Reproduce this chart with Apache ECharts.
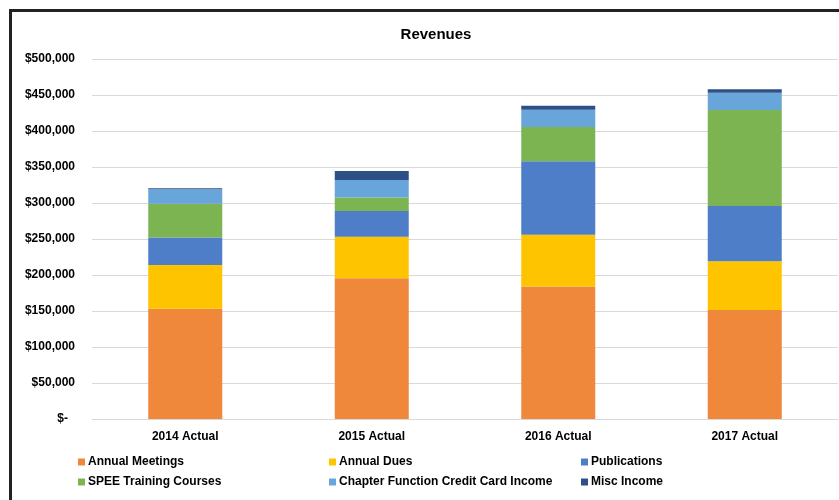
<!DOCTYPE html>
<html>
<head>
<meta charset="utf-8">
<script src="https://cdn.jsdelivr.net/npm/echarts@6/dist/echarts.min.js"></script>
<style>
  html, body { margin: 0; padding: 0; background: #fff; }
  #main { width: 839px; height: 500px; }
</style>
</head>
<body>
<div id="main"></div>
<script>
let categories = ['2014 Actual', '2015 Actual', '2016 Actual', '2017 Actual'];

let annualMeetings = [153000, 195500, 184000, 151500];
let annualDues = [61000, 57500, 72000, 67500];
let publications = [38000, 36000, 102000, 77000];
let speeTraining = [47000, 18500, 47500, 133000];
let chapterFunction = [20000, 24500, 24000, 24000];
let miscIncome = [1500, 12500, 5500, 5000];

let font = 'Liberation Sans';

function bar(name, data, color) {
    return {
        name: name,
        type: 'bar',
        stack: 'rev',
        barWidth: 74,
        data: data,
        itemStyle: {color: color},
        emphasis: {disabled: true}
    };
}

function legend(left, names) {
    return {
        orient: 'vertical',
        left: left,
        top: 456,
        height: 44,
        padding: 0,
        itemWidth: 7,
        itemHeight: 7,
        itemGap: 8,
        icon: 'rect',
        data: names,
        textStyle: {fontFamily: font, fontSize: 12, fontWeight: 'bold', color: '#000', padding: [0, 0, 0, -2]}
    };
}

let option = {
    animation: false,
    title: {
        text: 'Revenues',
        left: 431,
        textAlign: 'center',
        top: 22,
        textStyle: {fontFamily: font, fontSize: 15, fontWeight: 'bold', color: '#000'}
    },
    grid: {left: 92, right: 1, top: 59, bottom: 81},
    legend: [
        legend(78, ['Annual Meetings', 'SPEE Training Courses']),
        legend(329, ['Annual Dues', 'Chapter Function Credit Card Income']),
        legend(581, ['Publications', 'Misc Income'])
    ],
    xAxis: {
        type: 'category',
        data: categories,
        axisLine: {lineStyle: {color: '#d9d9d9', width: 1}},
        axisTick: {show: false},
        axisLabel: {fontFamily: font, fontSize: 12, fontWeight: 'bold', color: '#000', margin: 12}
    },
    yAxis: {
        type: 'value',
        min: 0,
        max: 500000,
        interval: 50000,
        axisLine: {show: false},
        axisTick: {show: false},
        splitLine: {lineStyle: {color: '#d9d9d9', width: 1}},
        axisLabel: {
            fontFamily: font, fontSize: 12, fontWeight: 'bold', color: '#000', margin: 17,
            formatter: function (v) {
                if (v === 0) return '{z|$-}';
                return '$' + v.toLocaleString('en-US');
            },
            rich: {
                z: {fontFamily: font, fontSize: 12, fontWeight: 'bold', color: '#000', padding: [0, 7, 0, 0]}
            }
        }
    },
    graphic: [{
        type: 'rect',
        shape: {x: 10.5, y: 10.5, width: 900, height: 600},
        style: {fill: 'none', stroke: '#222', lineWidth: 3},
        silent: true
    }],
    series: [
        bar('Annual Meetings', annualMeetings, '#EF883B'),
        bar('Annual Dues', annualDues, '#FFC400'),
        bar('Publications', publications, '#4E7EC8'),
        bar('SPEE Training Courses', speeTraining, '#7DB452'),
        bar('Chapter Function Credit Card Income', chapterFunction, '#67A5DA'),
        bar('Misc Income', miscIncome, '#2F5087')
    ]
};

let chart = echarts.init(document.getElementById('main'));
chart.setOption(option);
</script>
</body>
</html>
